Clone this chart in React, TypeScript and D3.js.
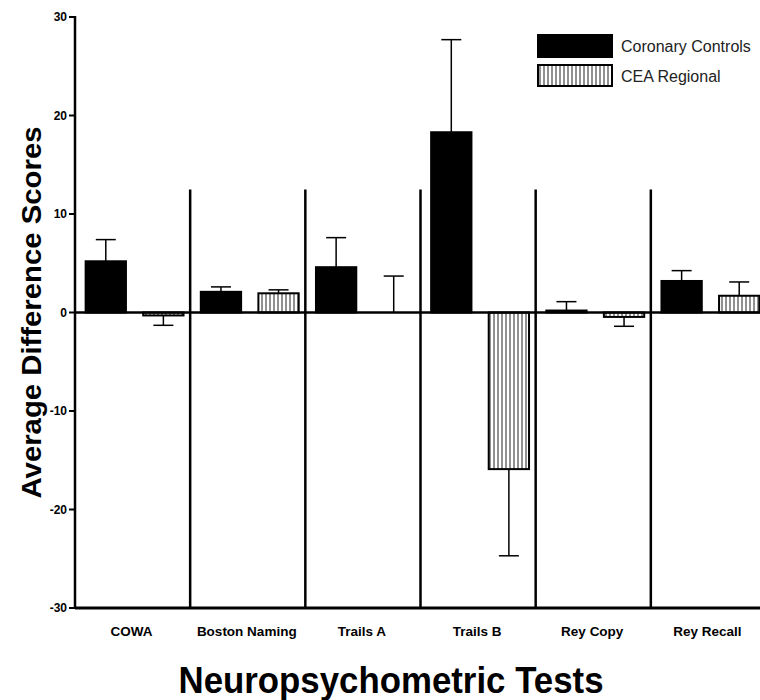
import React from 'react';
import * as d3 from 'd3';

const tests = ['COWA', 'Boston Naming', 'Trails A', 'Trails B', 'Rey Copy', 'Rey Recall'];
const seriesNames = ['Coronary Controls', 'CEA Regional'];
const coronary = [5.2, 2.1, 4.6, 18.3, 0.2, 3.2];
const coronaryErr = [2.2, 0.5, 3.0, 9.4, 0.9, 1.05];
const cea = [-0.3, 1.95, 0, -15.9, -0.45, 1.7];
const ceaErr = [1.0, 0.35, 3.7, 8.8, 0.95, 1.4];
const yTicks = [-30, -20, -10, 0, 10, 20, 30];
const dividerTop = 12.5;

const W = 760;
const H = 700;
const font = 'Liberation Sans, Arial, sans-serif';

function App() {
  const y = d3.scaleLinear().domain([-30, 30]).range([608, 17]);
  const x0 = d3.scaleBand<string>().domain(tests).range([77, 768]).padding(0);
  const x1 = d3
    .scaleBand<string>()
    .domain(['c', 'e'])
    .range([0, x0.bandwidth()])
    .paddingInner(0.3)
    .paddingOuter(0.15);
  const axisX = 75;

  const bars = tests.flatMap((t, i) => [
    { t, key: 'c', v: coronary[i], e: coronaryErr[i] },
    { t, key: 'e', v: cea[i], e: ceaErr[i] },
  ]);

  return (
    <svg
      width={W}
      height={H}
      style={{ position: 'absolute', left: 0, top: 0, background: '#fff' }}
      fontFamily={font}
    >
      <defs>
        <pattern id="vhatch" patternUnits="userSpaceOnUse" width={4} height={4}>
          <rect width={4} height={4} fill="#fff" />
          <line x1={2} y1={0} x2={2} y2={4} stroke="#222" strokeWidth={1} />
        </pattern>
      </defs>

      {/* dividers between tests */}
      {tests.slice(1).map((t) => (
        <line
          key={t}
          x1={(x0(t) as number) - 2}
          x2={(x0(t) as number) - 2}
          y1={y(dividerTop)}
          y2={y(-30)}
          stroke="#000"
          strokeWidth={2.5}
        />
      ))}

      {/* bars + error bars */}
      {bars.map((b) => {
        const bx = (x0(b.t) as number) + (x1(b.key) as number);
        const bw = x1.bandwidth();
        const cx = bx + bw / 2;
        const top = y(Math.max(0, b.v));
        const bot = y(Math.min(0, b.v));
        const end = b.v >= 0 ? y(b.v + b.e) : y(b.v - b.e);
        const from = b.v >= 0 ? top : bot;
        return (
          <g key={b.t + b.key}>
            <line x1={cx} x2={cx} y1={from} y2={end} stroke="#000" strokeWidth={1.5} />
            <line x1={cx - 10} x2={cx + 10} y1={end} y2={end} stroke="#000" strokeWidth={1.5} />
            {b.v !== 0 && (
              <rect
                x={bx}
                y={top}
                width={bw}
                height={Math.max(bot - top, 1)}
                fill={b.key === 'c' ? '#000' : 'url(#vhatch)'}
                stroke="#000"
                strokeWidth={2}
              />
            )}
          </g>
        );
      })}

      {/* zero line and bottom axis */}
      <line x1={axisX} x2={W} y1={y(0)} y2={y(0)} stroke="#000" strokeWidth={2.5} />
      <line x1={axisX} x2={W} y1={y(-30)} y2={y(-30)} stroke="#000" strokeWidth={3} />

      {/* y axis */}
      <line x1={axisX} x2={axisX} y1={y(30) - 1} y2={y(-30)} stroke="#000" strokeWidth={2.5} />
      {yTicks.map((t) => (
        <g key={t}>
          <line x1={axisX - 6} x2={axisX} y1={y(t)} y2={y(t)} stroke="#000" strokeWidth={2} />
          <text
            x={axisX - 8}
            y={y(t)}
            dy="0.35em"
            textAnchor="end"
            fontSize={12}
            fontWeight="bold"
          >
            {t}
          </text>
        </g>
      ))}

      {/* category labels */}
      {tests.map((t) => (
        <text
          key={t}
          x={(x0(t) as number) + x0.bandwidth() / 2 - 3}
          y={636}
          textAnchor="middle"
          fontSize={13.5}
          fontWeight="bold"
        >
          {t}
        </text>
      ))}

      {/* axis titles */}
      <text
        x={391}
        y={693}
        textAnchor="middle"
        fontSize={36}
        fontWeight="bold"
        textLength={425}
        lengthAdjust="spacingAndGlyphs"
      >
        Neuropsychometric Tests
      </text>
      <text
        transform={`translate(41, ${y(0)}) rotate(-90)`}
        textAnchor="middle"
        fontSize={27}
        fontWeight="bold"
        textLength={372}
        lengthAdjust="spacingAndGlyphs"
      >
        Average Difference Scores
      </text>

      {/* legend */}
      {seriesNames.map((s, i) => (
        <g key={s} transform={`translate(538, ${35 + i * 30})`}>
          <rect
            width={74}
            height={i === 0 ? 22 : 21}
            fill={i === 0 ? '#000' : 'url(#vhatch)'}
            stroke="#000"
            strokeWidth={2}
          />
          <text x={83} y={11} dy="0.35em" fontSize={16} fill="#222">
            {s}
          </text>
        </g>
      ))}
    </svg>
  );
}

export default App;
